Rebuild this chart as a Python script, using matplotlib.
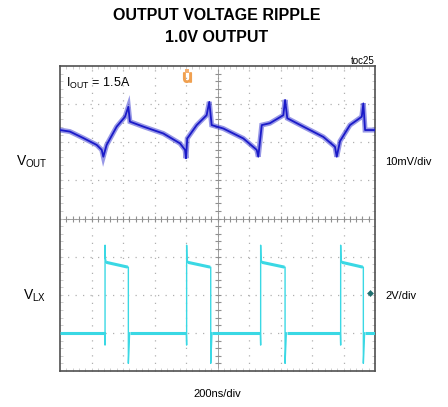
import numpy as np
import matplotlib
matplotlib.use("Agg")
import matplotlib.pyplot as plt

# ── scope settings ────────────────────────────────────────────────────────────
NS_PER_DIV = 200.0     # horizontal scale
MV_PER_DIV = 10.0      # VOUT channel (AC coupled)
V_PER_DIV = 2.0        # VLX channel
VOUT_POS = 6.32        # VOUT trace centre, divisions from bottom
VLX_POS = 1.0          # VLX ground, divisions from bottom

# ── VOUT ripple (time in ns, ripple in mV) ────────────────────────────────────
vout_t_ns = [0, 63, 148, 233, 265, 275, 296, 360, 413, 434, 444, 529, 656, 762,
             794, 800, 808, 868, 931, 948, 963, 1037, 1164, 1249, 1259, 1281,
             1333, 1418, 1429, 1443, 1545, 1672, 1746, 1757, 1778, 1841, 1916,
             1926, 1937, 2000]
vout_mv = [0.0, -0.4, -2.1, -3.9, -5.2, -7.0, -3.9, 0.9, 3.5, 6.1, 2.2, 0.9,
           -0.9, -3.5, -5.2, -7.4, -2.2, 1.3, 3.9, 7.4, 1.3, 0.4, -2.2, -5.2,
           -7.0, 1.3, 1.8, 3.9, 7.9, 3.1, 0.9, -1.8, -4.4, -7.0, -2.9, 1.3,
           3.5, 7.0, 0.0, 0.0]

# ── VLX switching node (edges in ns, levels in V) ─────────────────────────────
vlx_rise_ns = [286, 804, 1274, 1782]
vlx_fall_ns = [434, 957, 1429, 1926]
vlx_low = 0.0
vlx_high_start = 3.7
vlx_high_end = 3.45
vlx_overshoot = 4.6
vlx_rise_dip = -0.64
vlx_fall_dip = -1.6

BLUE = "#1a1ac8"
CYAN = "#3ad8e4"
GRID = "#b0b0b0"


def vlx_segments():
    """Low/high plateaus plus the edge spikes of the switching waveform."""
    flats, edges = [], []
    t_prev = 0.0
    for tr, tf in zip(vlx_rise_ns, vlx_fall_ns):
        flats.append(([t_prev, tr - 3], [vlx_low, vlx_low]))
        flats.append(([tr + 8, tf - 4], [vlx_high_start, vlx_high_end]))
        edges.append(([tr - 2, tr, tr, tr + 2, tr + 8],
                      [vlx_low, vlx_rise_dip, vlx_overshoot, vlx_high_start + 0.2,
                       vlx_high_start]))
        edges.append(([tf - 4, tf, tf, tf + 8],
                      [vlx_high_end, vlx_high_end, vlx_fall_dip, vlx_low]))
        t_prev = tf + 10
    flats.append(([t_prev, 2000], [vlx_low, vlx_low]))
    return flats, edges


fig = plt.figure(figsize=(4.48, 4.07), dpi=100)
ax = fig.add_axes([60 / 448, 1 - 371 / 407, 315 / 448, 305 / 407])
ax.set_xlim(0, 10)
ax.set_ylim(0, 8)
ax.set_xticks([])
ax.set_yticks([])
for s in ax.spines.values():
    s.set_color("#505050")
    s.set_linewidth(1.2)

# graticule
for k in range(1, 10):
    ax.axvline(k, color=GRID, lw=0.9, ls=(0, (1, 5)), zorder=1)
for k in range(1, 8):
    ax.axhline(k, color=GRID, lw=0.9, ls=(0, (1, 5)), zorder=1)
ax.axhline(4, color="#909090", lw=0.6, zorder=1)
ax.axvline(5, color="#909090", lw=0.6, zorder=1)
minor_x = np.arange(0.2, 10, 0.2)
minor_y = np.arange(0.2, 8, 0.2)
ax.plot(minor_x, np.full_like(minor_x, 4), ls="none", marker="|", ms=4,
        mew=0.8, color="#909090", zorder=1)
ax.plot(np.full_like(minor_y, 5), minor_y, ls="none", marker="_", ms=4,
        mew=0.8, color="#909090", zorder=1)
for yb in (0, 8):
    ax.plot(minor_x, np.full_like(minor_x, yb), ls="none", marker="|", ms=4,
            mew=0.6, color="#c8c8c8", zorder=1)
for xb in (0, 10):
    ax.plot(np.full_like(minor_y, xb), minor_y, ls="none", marker="_", ms=4,
            mew=0.6, color="#c8c8c8", zorder=1)

# VOUT trace
vx = np.array(vout_t_ns) / NS_PER_DIV
vy = VOUT_POS + np.array(vout_mv) / MV_PER_DIV
ax.plot(vx, vy, color=BLUE, lw=3.6, alpha=0.45, zorder=3,
        solid_joinstyle="miter")
ax.plot(vx, vy, color=BLUE, lw=1.3, zorder=4)

# VLX trace
flats, edges = vlx_segments()
for t, v in flats:
    ax.plot(np.array(t) / NS_PER_DIV, VLX_POS + np.array(v) / V_PER_DIV,
            color=CYAN, lw=2.2, zorder=3, solid_capstyle="butt")
for t, v in edges:
    ax.plot(np.array(t) / NS_PER_DIV, VLX_POS + np.array(v) / V_PER_DIV,
            color=CYAN, lw=1.0, zorder=3)

# trigger / level markers
ax.plot(4.02, 7.72, marker="$\\mathsf{u}$", ms=7, color="#f0a050", zorder=5,
        clip_on=False)
ax.plot(4.02, 7.88, marker="s", ms=3, color="#f5b070", mew=0, zorder=5,
        clip_on=False)
ax.plot(9.85, 2.04, marker="D", ms=3.5, color="#207070", mew=0, zorder=5)

# text
narrow = ["Liberation Sans Narrow", "Liberation Sans", "DejaVu Sans"]
sans = ["Liberation Sans", "DejaVu Sans"]
fig.text(217 / 448, 1 - 16 / 407, "OUTPUT VOLTAGE RIPPLE", ha="center",
         va="center", fontsize=11.5, fontweight="bold", family=narrow)
fig.text(217 / 448, 1 - 38 / 407, "1.0V OUTPUT", ha="center", va="center",
         fontsize=11.5, fontweight="bold", family=narrow)
fig.text(375 / 448, 1 - 61 / 407, "toc25", ha="right", va="center",
         fontsize=7, family=sans)
ax.text(0.2, 7.55, "I$_{\\mathregular{OUT}}$ = 1.5A", ha="left", va="center",
        fontsize=9, family=sans)
fig.text(48 / 448, 1 - 162 / 407, "V$_{\\mathregular{OUT}}$", ha="right",
         va="center", fontsize=10, family=sans)
fig.text(46 / 448, 1 - 296 / 407, "V$_{\\mathregular{LX}}$", ha="right",
         va="center", fontsize=10, family=sans)
fig.text(385 / 448, 1 - 162 / 407, "10mV/div", ha="left", va="center",
         fontsize=8, family=sans)
fig.text(385 / 448, 1 - 296 / 407, "2V/div", ha="left", va="center",
         fontsize=8, family=sans)
fig.text(217 / 448, 1 - 394 / 407, "200ns/div", ha="center", va="center",
         fontsize=8, family=sans)

fig.savefig("out.png", dpi=100)
